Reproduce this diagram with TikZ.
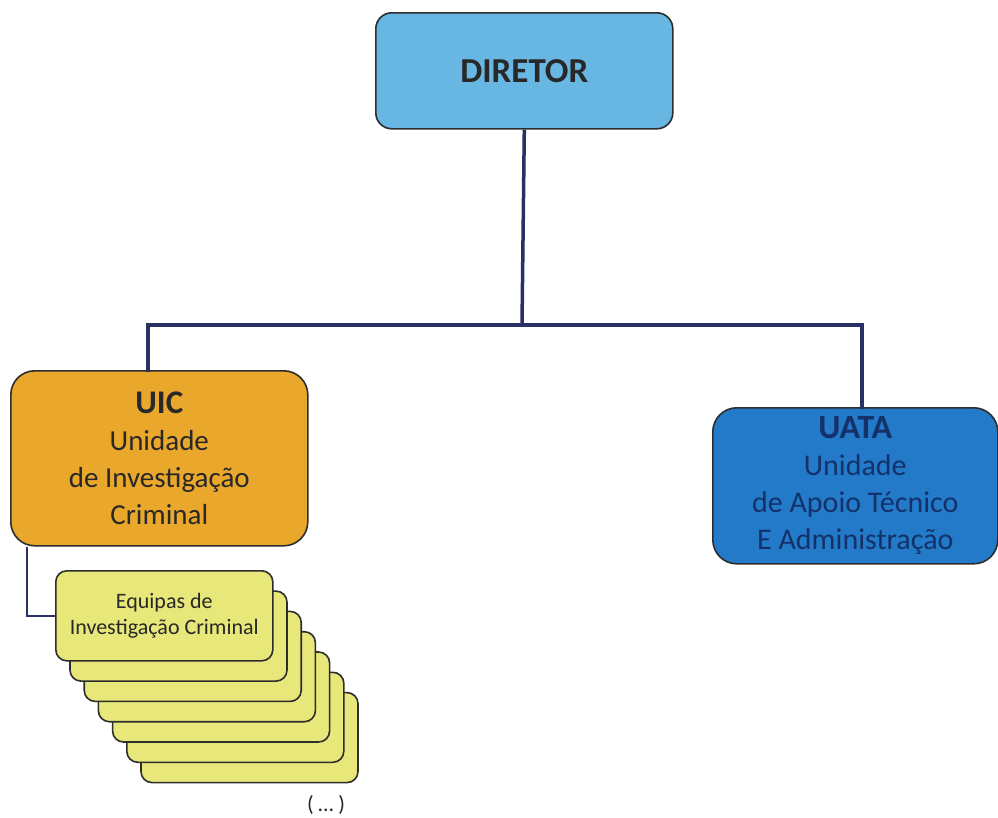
\documentclass[tikz,border=0pt]{standalone}
\usepackage{fontspec}
\setmainfont{Carlito}
\definecolor{dirblue}{RGB}{104,182,226}
\definecolor{uicorange}{RGB}{233,168,44}
\definecolor{uatablue}{RGB}{34,122,200}
\definecolor{teamyellow}{RGB}{232,231,122}
\definecolor{linenavy}{RGB}{40,48,100}
\definecolor{boxedge}{RGB}{45,45,45}
\definecolor{txtdark}{RGB}{40,40,40}
\definecolor{uatatxt}{RGB}{20,50,105}
\begin{document}
\begin{tikzpicture}[x=1pt,y=-1pt,
  orgbox/.style={draw=boxedge,line width=1.6pt,rounded corners=16pt,inner sep=0pt,anchor=north west,align=center,text=txtdark},
  teambox/.style={orgbox,fill=teamyellow,rounded corners=11pt,minimum width=217pt,minimum height=90pt,font=\fontsize{22}{26}\selectfont},
  conn/.style={draw=linenavy,line width=3.5pt},
  thinconn/.style={draw=linenavy,line width=1.5pt}]
\useasboundingbox (0,0) rectangle (998,817);
\fill[white] (0,0) rectangle (998,817);
% teams stack (back to front)
\foreach \i in {6,5,...,1}{
  \node[teambox] (t\i) at ({55+14.2*\i},{570+20.3*\i}) {};
}
\node[teambox] (t0) at (55,570) {Equipas de\\Investigação Criminal};
% main boxes
\node[orgbox,fill=dirblue,minimum width=297pt,minimum height=116pt,font=\fontsize{35}{38}\selectfont\bfseries] (dir) at (375,12) {DIRETOR};
\node[orgbox,fill=uicorange,rounded corners=24pt,minimum width=297pt,minimum height=175pt,font=\fontsize{29}{37}\selectfont] (uic) at (10,370) {{\fontsize{33}{36}\selectfont\bfseries UIC}\\Unidade\\de Investigação\\Criminal};
\node[orgbox,fill=uatablue,text=uatatxt,rounded corners=24pt,minimum width=285pt,minimum height=156pt,font=\fontsize{30}{37}\selectfont] (uata) at (712,407) {{\fontsize{34}{36}\selectfont\bfseries UATA}\\Unidade\\de Apoio Técnico\\E Administração};
% connectors
\coordinate (bus) at (522,325);
\coordinate (lft) at (148,325);
\coordinate (rgt) at (862,325);
\draw[conn] (dir.south) -- (bus);
\draw[conn,line cap=rect] (lft |- uic.north) -- (lft) -- (rgt) -- (rgt |- uata.north);
\coordinate (tj) at (27,0);
\draw[thinconn] (tj |- uic.south) |- (t0.west);
\node[font=\fontsize{22}{24}\selectfont,text=txtdark,inner sep=0pt] (more) at (326,805) {(\hspace{4pt}...\hspace{4pt})};
\end{tikzpicture}
\end{document}
